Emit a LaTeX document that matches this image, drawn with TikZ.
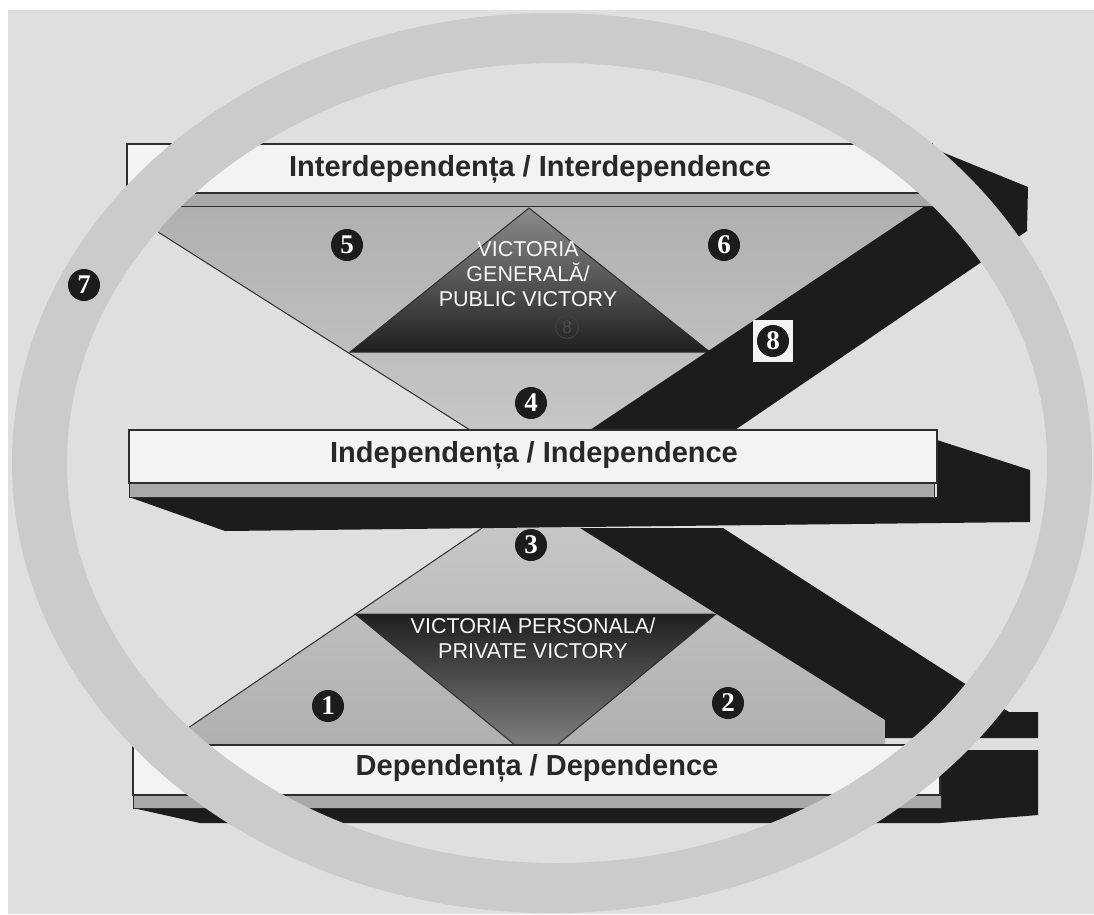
\documentclass[tikz,border=0pt]{standalone}
\usepackage{fontspec}
\setmainfont{Liberation Sans}
\newfontfamily\numfont{Liberation Serif}
\definecolor{bgc}{HTML}{DFDFDF}
\definecolor{ringc}{HTML}{CBCBCB}
\definecolor{barc}{HTML}{F3F3F3}
\definecolor{stripc}{HTML}{A9A9A9}
\definecolor{blk}{HTML}{1C1C1C}
\definecolor{linec}{HTML}{2E2E2E}
\definecolor{txtc}{HTML}{282828}
\definecolor{ltop}{HTML}{B0B0B0}
\definecolor{lmid}{HTML}{D8D8D8}
\definecolor{lbot}{HTML}{C6C6C6}
\definecolor{dlight}{HTML}{8C8C8C}
\definecolor{ddark}{HTML}{1F1F1F}
\tikzset{
  outl/.style={draw=linec, line width=1pt},
  barbox/.style={fill=barc, draw=linec, line width=1.1pt},
  stripbox/.style={fill=stripc, draw=linec, line width=0.9pt},
  bartext/.style={font=\bfseries\fontsize{29}{29}\selectfont, text=txtc, inner sep=0pt},
  victext/.style={font=\fontsize{21.5}{25}\selectfont, text=white!94!gray, align=center, inner sep=0pt},
  marker/.style={circle, fill=blk, text=white, minimum size=32pt, inner sep=0pt,
    font=\numfont\bfseries\fontsize{27}{27}\selectfont},
}
\begin{document}
\begin{tikzpicture}[x=1pt,y=-1pt]
\useasboundingbox (0,0) rectangle (1094,914);
\fill[white] (0,0) rectangle (1094,914);
\fill[bgc] (8,10) rectangle (1094,914);

% ---------- upper level (public victory) ----------
\shade[top color=ltop, middle color=lmid, bottom color=lbot]
  (175,206) -- (925,206) -- (590,430) -- (470,430) -- (158,232) -- cycle;
\draw[outl] (158,232) -- (470,430);
\shadedraw[top color=dlight, bottom color=ddark, draw=linec, line width=1pt]
  (529,208) -- (710,352) -- (350,352) -- cycle;
% upper band + shadow of the top bar
\fill[blk] (590,430) -- (925,206) -- (932,206) -- (932,148) -- (1028,187)
  -- (1027,231) -- (735,430) -- cycle;

% top bar
\draw[stripbox] (160,193) rectangle (932,206);
\draw[barbox] (127,144) rectangle (932,193);
\node[bartext, anchor=base] (tinter) at (530,176) {Interdependența / Interdependence};

% ---------- lower level (private victory) ----------
\shade[top color=lbot, middle color=lmid, bottom color=ltop]
  (482,528) -- (580,528) -- (885,720) -- (885,745) -- (163,745) -- cycle;
\draw[outl] (163,745) -- (482,528);
\shadedraw[top color=ddark, bottom color=dlight!90!black, draw=linec, line width=1pt]
  (355,614) -- (716,614) -- (557,745) -- (515,745) -- cycle;
% lower band
\fill[blk] (580,528) -- (723,528) -- (1009,712) -- (1038,712) -- (1038,738)
  -- (885,738) -- (885,720) -- cycle;

% independence bar
\fill[blk] (129,497) -- (225,531) -- (1030,522) -- (1030,470) -- (937,440)
  -- (937,497) -- cycle;
\draw[stripbox] (129,483) rectangle (934,497);
\draw[barbox] (129,430) rectangle (937,483);
\node[bartext, anchor=base] (tindep) at (534,462) {Independența / Independence};

% dependence bar
\fill[blk] (133,808) -- (200,823) -- (940,823) -- (1038,815) -- (1038,750)
  -- (940,750) -- (940,808) -- cycle;
\draw[stripbox] (133,795) rectangle (941,808);
\draw[barbox] (133,745) rectangle (940,795);
\node[bartext, anchor=base] (tdep) at (537,775) {Dependența / Dependence};

% victory texts
\node[victext] (vpub) at (528,274) {VICTORIA\\GENERALĂ/\\PUBLIC VICTORY};
\node[victext] (vpriv) at (533,638) {VICTORIA PERSONALA/\\PRIVATE VICTORY};
\node[circle, draw=black!75, line width=1pt, minimum size=23pt, inner sep=0pt,
  text=black!70, font=\numfont\fontsize{19}{19}\selectfont] (ghost) at (567,327) {8};

% ---------- ring ----------
\fill[ringc, even odd rule] (552,463) ellipse [x radius=540pt, y radius=450pt]
  (557,463) ellipse [x radius=490pt, y radius=400pt];

% ---------- markers ----------
\node[marker] (m1) at (328,706) {1};
\node[marker] (m2) at (728,703) {2};
\node[marker] (m3) at (531,545) {3};
\node[marker] (m4) at (531,403) {4};
\node[marker] (m5) at (347,245) {5};
\node[marker] (m6) at (724,245) {6};
\node[marker] (m7) at (84,285) {7};
\node[fill=barc, minimum width=40pt, minimum height=42pt, inner sep=0pt] (sq8) at (773,341) {};
\node[marker] (m8) at (sq8) {8};
\end{tikzpicture}
\end{document}
